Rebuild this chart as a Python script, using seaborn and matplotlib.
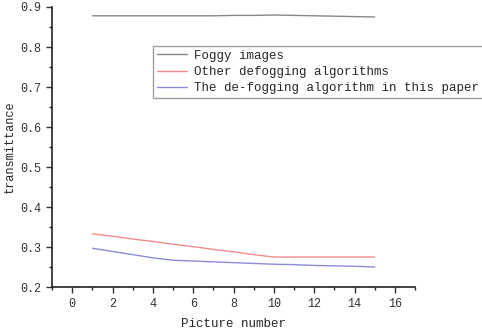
import numpy as np
import pandas as pd
import matplotlib
matplotlib.use('Agg')
import matplotlib.pyplot as plt
import seaborn as sns

# values
picture = [1, 2, 3, 4, 5, 6, 7, 8, 9, 10, 11, 12, 13, 14, 15]
foggy = [0.878, 0.878, 0.878, 0.878, 0.878, 0.878, 0.878, 0.879, 0.879, 0.880,
         0.879, 0.878, 0.877, 0.876, 0.875]
other = [0.333, 0.327, 0.320, 0.314, 0.307, 0.301, 0.294, 0.288, 0.281, 0.275,
         0.275, 0.275, 0.275, 0.275, 0.275]
ours = [0.297, 0.289, 0.281, 0.273, 0.267, 0.265, 0.263, 0.261, 0.259, 0.257,
        0.256, 0.254, 0.253, 0.252, 0.250]
names = ['Foggy images', 'Other defogging algorithms',
         'The de-fogging algorithm in this paper']

df = pd.concat([
    pd.DataFrame({'x': picture, 'y': vals, 'series': name})
    for name, vals in zip(names, [foggy, other, ours])
])

sns.set_style('ticks')
plt.rcParams['font.family'] = ['Liberation Mono', 'DejaVu Sans']

fig = plt.figure(figsize=(4.82, 3.33), dpi=100)
ax = fig.add_axes([0.108, 0.138, 0.753, 0.841])
sns.lineplot(data=df, x='x', y='y', hue='series', palette=['#888888', '#f28c8c', '#8c8cd6'],
             linewidth=1.0, ax=ax)

ax.set_xlim(-1, 17)
ax.set_ylim(0.2, 0.9)
ax.set_xticks(range(0, 17, 2))
ax.set_xticks(range(-1, 18, 1), minor=True)
ax.set_yticks(np.arange(0.2, 0.91, 0.1))
ax.set_yticks(np.arange(0.2, 0.91, 0.05), minor=True)
ax.set_yticklabels([f'{v:.1f}' for v in np.arange(0.2, 0.91, 0.1)])
ax.tick_params(which='major', length=4, width=1, labelsize=8.5, colors='#333333', pad=4)
ax.tick_params(which='minor', length=2.5, width=1)
for s in ['left', 'bottom']:
    ax.spines[s].set_linewidth(1.2)
    ax.spines[s].set_color('#222222')
for s in ['top', 'right']:
    ax.spines[s].set_visible(False)

ax.set_xlabel('Picture number', fontsize=9, labelpad=6)
ax.set_ylabel('transmittance', fontsize=8.6, labelpad=3)

leg = ax.legend(loc='upper left', bbox_to_anchor=(0.317, 0.862),
                bbox_transform=fig.transFigure, fontsize=9, frameon=True,
                fancybox=False, handlelength=2.4, handletextpad=0.6,
                borderpad=0.3, labelspacing=0.35, borderaxespad=0)
leg.get_frame().set_edgecolor('#888888')
leg.get_frame().set_linewidth(1.0)

fig.savefig('out.png', dpi=100)
